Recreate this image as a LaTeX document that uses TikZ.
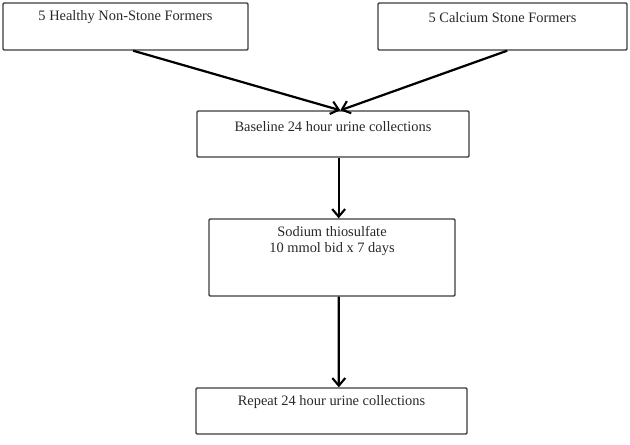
\documentclass[tikz,border=0pt]{standalone}
\usepackage{fontspec}
\setmainfont{Liberation Serif}
\usepackage{tikz}
\usetikzlibrary{
  arrows.meta,
  positioning,
  calc
}
\definecolor{boxBorder}{RGB}{60, 60, 60}
\definecolor{labelText}{RGB}{40, 40, 40}

\begin{document}
\begin{tikzpicture}[
    x=0.03cm, y=-0.03cm,
    font=\fontsize{12.3}{13.6}\selectfont,
    box/.style={rectangle, draw=boxBorder, line width=1.2pt, rounded corners=1pt, inner sep=0pt},
    lbl/.style={text=labelText, align=center, inner sep=0pt},
    arrow/.style={-{Straight Barb[length=6.5pt, width=11pt, line width=1.8pt]}, draw=black, line width=1.9pt}
]

    \useasboundingbox (0,0) rectangle (630,445);

    % top row
    \node[box, minimum width=7.35cm, minimum height=1.41cm] (healthy) at (125.5,26.5) {};
    \node[box, minimum width=7.47cm, minimum height=1.41cm] (calcium) at (502.5,26.5) {};

    \node[lbl, below=0.45cm of healthy.north, anchor=center] (healthyText) {5 Healthy Non-Stone Formers};
    \node[lbl, below=0.45cm of calcium.north, anchor=center] (calciumText) {5 Calcium Stone Formers};

    % main column
    \node[box, minimum width=8.16cm, minimum height=1.38cm] (base) at (333,134) {};
    \node[box, minimum width=7.38cm, minimum height=2.31cm] (sodium) at (332,257.5) {};
    \node[box, minimum width=8.13cm, minimum height=1.38cm] (repeat) at (331.5,411) {};

    \node[lbl, below=0.48cm of base.north, anchor=center] (baseText) {Baseline 24 hour urine collections};
    \node[lbl, below=0.69cm of sodium.north, anchor=center] (sodiumText) {Sodium thiosulfate\\10 mmol bid x 7 days};
    \node[lbl, below=0.45cm of repeat.north, anchor=center] (repeatText) {Repeat 24 hour urine collections};

    \draw[arrow] ([xshift=0.23cm]healthy.south) -- ([xshift=0.22cm]base.north);
    \draw[arrow] ([xshift=0.14cm]calcium.south) -- ([xshift=0.22cm]base.north);

    \draw[arrow] ([xshift=0.17cm]base.south) -- ([xshift=0.2cm]sodium.north);
    \draw[arrow] ([xshift=0.2cm]sodium.south) -- ([xshift=0.22cm]repeat.north);

\end{tikzpicture}
\end{document}
